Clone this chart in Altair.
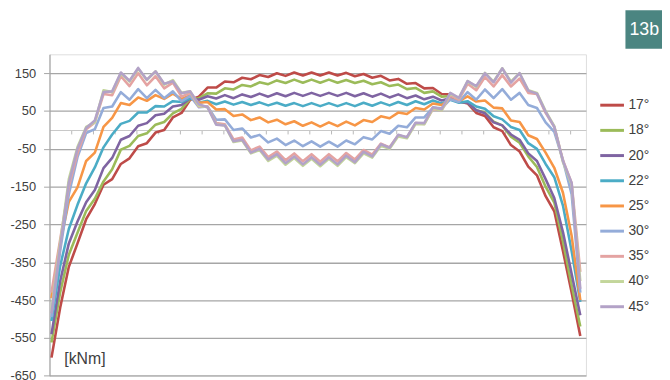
import altair as alt
import pandas as pd

labels = ["17°", "18°", "20°", "22°", "25°", "30°", "35°", "40°", "45°"]
colors = ["#be4b48", "#9bbb59", "#7f64a2", "#4bacc6", "#f79646",
          "#94acd9", "#e4a3a2", "#c3d69b", "#b3a2c7"]

s17 = [-602, -470, -362, -300, -236, -196, -145, -130, -90, -75,
       -43, -35, -7, 0, 33, 45, 80, 88, 112, 112,
       128, 126, 138, 134, 145, 140, 150, 143, 152, 144,
       152, 144, 152, 144, 151, 142, 148, 138, 143, 131,
       135, 122, 124, 110, 111, 95, 94, 76, 70, 45,
       37, 7, -3, -40, -57, -97, -120, -175, -215, -320,
       -430, -545]
s18 = [-562, -430, -330, -272, -214, -182, -136, -104, -52, -42,
       -16, -9, 14, 21, 44, 56, 82, 84, 97, 96,
       110, 107, 119, 115, 126, 121, 131, 124, 133, 125,
       133, 125, 133, 125, 132, 124, 130, 121, 126, 116,
       120, 108, 111, 98, 102, 88, 90, 76, 72, 52,
       46, 22, 12, -18, -34, -70, -98, -150, -192, -295,
       -410, -520]
s20 = [-540, -400, -300, -242, -191, -159, -101, -74, -26, -16,
       11, 18, 39, 43, 62, 66, 84, 80, 89, 83,
       92, 84, 94, 87, 96, 88, 97, 89, 98, 90,
       98, 90, 98, 90, 98, 89, 97, 88, 96, 86,
       94, 84, 91, 81, 88, 78, 84, 74, 72, 52,
       44, 20, 12, -12, -26, -62, -82, -130, -180, -270,
       -380, -490]
s22 = [-505, -360, -262, -198, -141, -99, -46, -12, 16, 24,
       46, 46, 63, 62, 76, 74, 84, 72, 77, 68,
       75, 67, 74, 66, 73, 65, 72, 64, 71, 63,
       71, 63, 71, 63, 71, 63, 72, 64, 73, 65,
       74, 66, 76, 68, 78, 70, 80, 72, 76, 62,
       56, 36, 28, 8, 0, -35, -50, -90, -125, -200,
       -320, -455]
s25 = [-445, -300, -190, -152, -82, -60, 8, 32, 71, 66,
       86, 77, 92, 82, 96, 82, 91, 72, 74, 54,
       55, 37, 41, 26, 33, 20, 27, 15, 23, 11,
       20, 9, 20, 10, 22, 12, 26, 21, 36, 31,
       46, 42, 58, 54, 70, 66, 82, 76, 89, 75,
       78, 59, 57, 25, 21, -14, -24, -60, -100, -166,
       -280, -450]
s30 = [-495, -320, -170, -72, -8, 2, 58, 62, 100, 80,
       108, 84, 106, 84, 102, 76, 90, 60, 62, 27,
       28, 0, 4, -20, -13, -33, -23, -40, -28, -43,
       -30, -44, -31, -44, -28, -38, -19, -25, -3, -10,
       11, 7, 33, 33, 59, 57, 81, 74, 100, 80,
       107, 84, 108, 80, 98, 66, 58, 20, -5, -80,
       -170, -430]
s35 = [-430, -290, -150, -62, 2, 20, 95, 92, 142, 116,
       150, 118, 142, 110, 125, 88, 98, 62, 62, 18,
       15, -25, -20, -54, -44, -72, -57, -80, -62, -83,
       -64, -84, -64, -83, -61, -78, -53, -65, -36, -46,
       -14, -20, 18, 16, 55, 52, 90, 80, 122, 105,
       140, 115, 145, 115, 136, 98, 95, 45, 8, -80,
       -140, -375]
s40 = [-475, -300, -130, -45, 8, 20, 105, 100, 150, 128,
       162, 132, 155, 120, 132, 98, 102, 64, 60, 15,
       12, -32, -28, -62, -53, -82, -68, -92, -74, -95,
       -76, -96, -76, -95, -72, -88, -62, -73, -42, -50,
       -17, -22, 16, 15, 57, 52, 96, 84, 129, 114,
       151, 128, 163, 128, 150, 105, 98, 50, 10, -85,
       -145, -400]
s45 = [-485, -310, -140, -50, 5, 25, 100, 102, 152, 130,
       164, 133, 155, 122, 129, 97, 102, 68, 60, 14,
       12, -30, -26, -60, -50, -78, -64, -88, -70, -91,
       -72, -92, -72, -91, -68, -85, -58, -70, -38, -47,
       -13, -19, 19, 18, 60, 55, 98, 85, 129, 116,
       150, 126, 163, 125, 150, 104, 96, 48, 8, -82,
       -140, -420]

y_ticks = [-650, -550, -450, -350, -250, -150, -50, 50, 150]
x_ticks = [-0.23 + 2.5 * k for k in range(1, 25)]
unit_label = "[kNm]"
badge_label = "13b"

series = [s17, s18, s20, s22, s25, s30, s35, s40, s45]
rows = []
for lab, vals in zip(labels, series):
    for i, v in enumerate(vals):
        rows.append({"pos": i, "M": v, "angle": lab})
df = pd.DataFrame(rows)

W, H = 543, 325.4
FONT = "Liberation Sans"

lines = alt.Chart(df).mark_line(strokeWidth=2.6, strokeJoin="round").encode(
    x=alt.X("pos:Q",
            scale=alt.Scale(domain=[-0.23, 61.65], nice=False, zero=False),
            axis=alt.Axis(title=None, labels=False, grid=False, values=x_ticks,
                          tickSize=4, tickColor="#b8b8b8", tickWidth=1,
                          domainColor="#c8c8c8", domainWidth=1.2,
                          offset=-248.8)),
    y=alt.Y("M:Q",
            scale=alt.Scale(domain=[-650, 200], nice=False, zero=False),
            axis=alt.Axis(title=None, values=y_ticks,
                          labelExpr="'' + datum.value",
                          labelFontSize=13, labelColor="#404040", labelFont=FONT,
                          labelPadding=8, tickSize=6, tickColor="#a6a6a6",
                          domainColor="#a6a6a6", domainWidth=1.2,
                          gridColor="#a6a6a6", gridWidth=1.3)),
    color=alt.Color("angle:N",
                    scale=alt.Scale(domain=labels, range=colors),
                    sort=labels,
                    legend=alt.Legend(title=None, orient="none", legendX=556, legendY=38,
                                      symbolType="stroke", symbolSize=576,
                                      symbolStrokeWidth=3, labelFontSize=14,
                                      labelFont=FONT, labelColor="#404040",
                                      rowPadding=4.5, labelOffset=3, padding=0)),
    detail="angle:N",
)

one = pd.DataFrame({"t": [unit_label], "b": [badge_label]})

unit_text = alt.Chart(one).mark_text(
    align="left", baseline="middle", fontSize=16, font=FONT, color="#404040"
).encode(x=alt.value(15), y=alt.value(308), text="t:N")

badge_rect = alt.Chart(one).mark_rect(color="#4b8581").encode(
    x=alt.value(583), x2=alt.value(620), y=alt.value(-44.6), y2=alt.value(-5.6))

badge_text = alt.Chart(one).mark_text(
    align="center", baseline="middle", fontSize=18, font=FONT, color="white"
).encode(x=alt.value(602), y=alt.value(-25), text="b:N")

chart = alt.layer(lines, unit_text, badge_rect, badge_text).properties(
    width=W, height=H,
    autosize=alt.AutoSizeParams(type="none"),
    padding={"left": 42, "top": 44.6, "right": 77, "bottom": 2},
).configure_view(strokeWidth=0).configure(font=FONT)

chart.save("out.html", embed_options={"renderer": "svg", "actions": False})
